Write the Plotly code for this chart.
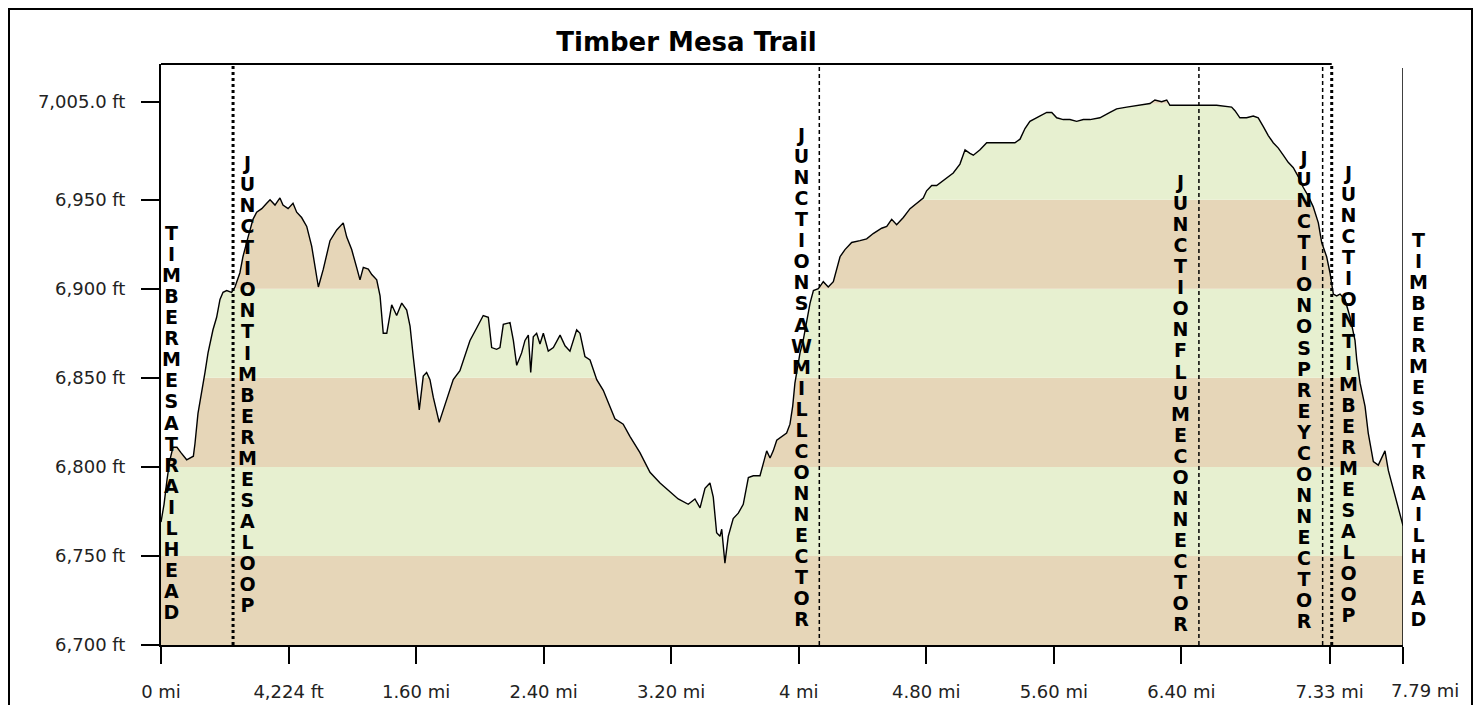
import plotly.graph_objects as go

# ---------------- data ----------------
dist_mi = [
    0.0, 0.019, 0.038, 0.056, 0.075, 0.100, 0.125, 0.161, 0.203, 0.213,
    0.232, 0.255, 0.276, 0.295, 0.326, 0.349, 0.370, 0.389, 0.412, 0.443,
    0.464, 0.495, 0.514, 0.546, 0.577, 0.600, 0.632, 0.663, 0.684, 0.715,
    0.746, 0.765, 0.797, 0.828, 0.851, 0.882, 0.914, 0.945, 0.966, 0.987,
    1.018, 1.060, 1.102, 1.143, 1.165, 1.196, 1.227, 1.248, 1.269, 1.300,
    1.322, 1.353, 1.374, 1.394, 1.416, 1.447, 1.478, 1.510, 1.541, 1.562,
    1.582, 1.604, 1.620, 1.645, 1.666, 1.687, 1.708, 1.745, 1.771, 1.802,
    1.833, 1.875, 1.917, 1.938, 1.980, 2.021, 2.053, 2.074, 2.105, 2.126,
    2.147, 2.189, 2.210, 2.231, 2.262, 2.283, 2.304, 2.319, 2.335, 2.356,
    2.377, 2.398, 2.429, 2.461, 2.503, 2.534, 2.565, 2.586, 2.607, 2.628,
    2.659, 2.691, 2.733, 2.774, 2.816, 2.847, 2.899, 2.942, 3.004, 3.067,
    3.130, 3.192, 3.244, 3.307, 3.349, 3.381, 3.412, 3.443, 3.464, 3.485,
    3.506, 3.517, 3.537, 3.558, 3.589, 3.621, 3.652, 3.684, 3.715, 3.757,
    3.778, 3.799, 3.820, 3.840, 3.862, 3.893, 3.924, 3.945, 3.962, 3.976,
    4.008, 4.028, 4.050, 4.071, 4.092, 4.123, 4.154, 4.185, 4.217, 4.259,
    4.290, 4.332, 4.384, 4.426, 4.467, 4.520, 4.552, 4.583, 4.614, 4.656,
    4.698, 4.750, 4.781, 4.802, 4.834, 4.865, 4.928, 4.969, 5.011, 5.043,
    5.074, 5.095, 5.137, 5.179, 5.262, 5.356, 5.388, 5.419, 5.450, 5.471,
    5.513, 5.555, 5.587, 5.618, 5.659, 5.701, 5.743, 5.785, 5.827, 5.889,
    5.952, 5.994, 6.057, 6.140, 6.203, 6.234, 6.276, 6.308, 6.328, 6.412,
    6.517, 6.621, 6.715, 6.736, 6.767, 6.809, 6.851, 6.882, 6.914, 6.945,
    6.976, 7.008, 7.039, 7.070, 7.102, 7.133, 7.164, 7.196, 7.227, 7.259,
    7.280, 7.311, 7.332, 7.353, 7.374, 7.395, 7.426, 7.458, 7.489, 7.500,
    7.521, 7.552, 7.572, 7.604, 7.635, 7.656, 7.677, 7.698, 7.729, 7.760, 7.790,
]
elev_ft = [
    6769, 6779, 6793, 6804, 6811, 6811, 6808, 6804, 6806, 6813,
    6830, 6841, 6853, 6864, 6877, 6884, 6894, 6898, 6899, 6898,
    6901, 6909, 6918, 6929, 6939, 6943, 6945, 6948, 6950, 6947,
    6951, 6947, 6945, 6948, 6943, 6940, 6935, 6924, 6912, 6901,
    6911, 6927, 6933, 6937, 6929, 6922, 6912, 6905, 6912, 6911,
    6908, 6905, 6896, 6875, 6875, 6891, 6885, 6892, 6888, 6879,
    6862, 6845, 6832, 6851, 6853, 6849, 6839, 6825, 6832, 6841,
    6849, 6854, 6866, 6871, 6878, 6885, 6884, 6867, 6866, 6867,
    6880, 6881, 6871, 6857, 6864, 6871, 6874, 6853, 6873, 6875,
    6869, 6875, 6865, 6867, 6874, 6868, 6865, 6871, 6877, 6875,
    6862, 6860, 6849, 6843, 6834, 6827, 6824, 6817, 6808, 6797,
    6791, 6786, 6782, 6779, 6782, 6777, 6788, 6791, 6783, 6763,
    6761, 6765, 6746, 6761, 6771, 6774, 6779, 6794, 6795, 6795,
    6802, 6809, 6805, 6809, 6815, 6817, 6819, 6824, 6834, 6847,
    6864, 6871, 6881, 6892, 6899, 6900, 6904, 6901, 6904, 6918,
    6922, 6926, 6927, 6928, 6931, 6934, 6935, 6939, 6936, 6940,
    6945, 6949, 6951, 6955, 6958, 6958, 6962, 6965, 6970, 6978,
    6976, 6975, 6978, 6982, 6982, 6982, 6984, 6990, 6994, 6995,
    6997, 6999, 6999, 6996, 6995, 6995, 6994, 6995, 6995, 6996,
    6999, 7001, 7002, 7003, 7004, 7006, 7005, 7006, 7003, 7003,
    7003, 7003, 7002, 7000, 6996, 6996, 6997, 6996, 6991, 6986,
    6982, 6979, 6975, 6971, 6968, 6963, 6957, 6952, 6946, 6937,
    6926, 6918, 6909, 6897, 6896, 6897, 6894, 6884, 6871, 6860,
    6847, 6834, 6819, 6803, 6801, 6805, 6809, 6798, 6787, 6776, 6767,
]

x_tick_vals = [0, 0.8, 1.6, 2.4, 3.2, 4.0, 4.8, 5.6, 6.4, 7.33, 7.79]
x_tick_text = ["0 mi", "4,224 ft", "1.60 mi", "2.40 mi", "3.20 mi", "4 mi",
               "4.80 mi", "5.60 mi", "6.40 mi", "7.33 mi", "7.79 mi"]
y_tick_vals = [6700, 6750, 6800, 6850, 6900, 6950, 7005]
y_tick_text = ["6,700 ft", "6,750 ft", "6,800 ft", "6,850 ft", "6,900 ft",
               "6,950 ft", "7,005.0 ft"]

band_edges_ft = [6700, 6750, 6800, 6850, 6900, 6950, 7004, 7026.2]

waypoint_names = ["TIMBER MESA TRAILHEAD", "JUNCTION TIMBER MESA LOOP",
                  "JUNCTION SAWMILL CONNECTOR", "JUNCTION FLUME CONNECTOR",
                  "JUNCTION OSPREY CONNECTOR", "JUNCTION TIMBER MESA LOOP",
                  "TIMBER MESA TRAILHEAD"]
waypoint_mi = [0.0, 0.452, 4.129, 6.51, 7.286, 7.343, 7.79]

# ---------------- style ----------------
TAN = "#e6d6b8"
GREEN = "#e7f0d0"
band_colors = [TAN, GREEN, TAN, GREEN, TAN, GREEN, TAN]
wp_line = [None, "thick", "thin", "thin", "thin", "thick", None]
wp_label_dx = [10, 14, -18, -18, -19, 17, 15]      # px offset of label
wp_label_top = [223, 153, 125, 172, 148, 163, 230]  # page px of first letter top

OFF = 8                      # page body margin
W, H = 1473, 697             # figure size (page is 1481 x 705)
L, T = 161 - OFF, 64 - OFF   # plot area left / top in figure px
R = W - (1403 - OFF)
B = H - (645 - OFF)
PW, PH = W - L - R, H - T - B
X_MAX = 7.79
Y_MIN, Y_MAX = 6700, 7026.2
FONT = "DejaVu Sans"


def py(ypage):
    """page y pixel -> paper y"""
    return (H - B - (ypage - OFF)) / PH


def px(xpage):
    """page x pixel -> paper x"""
    return (xpage - OFF - L) / PW


fig = go.Figure()

# white mask above the profile so the coloured bands only show under it
fig.add_trace(go.Scatter(x=[0, X_MAX], y=[Y_MAX, Y_MAX], mode="lines",
                         line=dict(width=0, color="white"),
                         hoverinfo="skip", showlegend=False))
fig.add_trace(go.Scatter(x=dist_mi, y=elev_ft, mode="lines",
                         line=dict(color="black", width=1.4),
                         fill="tonexty", fillcolor="white",
                         name="Elevation", showlegend=False))

shapes = []
for i in range(len(band_colors)):
    shapes.append(dict(type="rect", xref="x", yref="y", x0=0, x1=X_MAX,
                       y0=band_edges_ft[i], y1=band_edges_ft[i + 1],
                       fillcolor=band_colors[i], line=dict(width=0),
                       layer="below"))

for xm, st in zip(waypoint_mi, wp_line):
    if st is None:
        continue
    if st == "thick":
        ln = dict(color="black", width=3, dash="3px,3px")
    else:
        ln = dict(color="black", width=1.5, dash="4px,3px")
    shapes.append(dict(type="line", xref="x", yref="paper", x0=xm, x1=xm,
                       y0=0, y1=1, line=ln, layer="above"))

# top frame line (stops at the last loop junction)
shapes.append(dict(type="line", xref="x", yref="paper", x0=0, x1=waypoint_mi[5],
                   y0=1, y1=1, line=dict(color="black", width=2), layer="above"))
# right line
shapes.append(dict(type="line", xref="x", yref="paper", x0=X_MAX, x1=X_MAX,
                   y0=0, y1=py(68), line=dict(color="black", width=1.5),
                   layer="above"))
# outer border of the picture
shapes.append(dict(type="rect", xref="paper", yref="paper",
                   x0=px(8.5), x1=px(1472.5), y0=py(720), y1=py(8.5),
                   line=dict(color="black", width=3), fillcolor="rgba(0,0,0,0)",
                   layer="above"))

annotations = []
for name, xm, dx, top in zip(waypoint_names, waypoint_mi, wp_label_dx, wp_label_top):
    letters = [ch for ch in name if ch != " "]
    txt = "<br>".join('<span style="font-size:19px">%s</span>' % ch for ch in letters)
    annotations.append(dict(x=xm, xref="x", y=py(top - 3), yref="paper",
                            xanchor="center", yanchor="top", xshift=dx,
                            text=txt, showarrow=False, align="center",
                            font=dict(family=FONT, size=16.2, color="black",
                                      weight="bold")))

# last x tick label sits right of its tick
annotations.append(dict(x=X_MAX, xref="x", y=py(678), yref="paper",
                        xanchor="center", yanchor="top", xshift=22,
                        text=x_tick_text[-1], showarrow=False,
                        font=dict(family=FONT, size=18, color="#222")))
x_tick_labels = x_tick_text[:-1] + [""]

fig.update_layout(
    width=W, height=H, autosize=False,
    margin=dict(l=L, r=R, t=T, b=B, pad=0, autoexpand=False),
    paper_bgcolor="white", plot_bgcolor="white",
    title=dict(text="Timber Mesa Trail", x=(686.5 - OFF) / W, xanchor="center",
               y=1 - (41.7 - OFF) / H, yanchor="middle",
               xref="container", yref="container", automargin=False,
               font=dict(family=FONT, size=26, color="black", weight="bold")),
    xaxis=dict(range=[0, X_MAX], tickmode="array", tickvals=x_tick_vals,
               ticktext=x_tick_labels, ticks="outside", ticklen=17, tickwidth=2,
               tickcolor="black", showline=True, linecolor="black", linewidth=2,
               showgrid=False, zeroline=False, ticklabelstandoff=12,
               automargin=False,
               tickfont=dict(family=FONT, size=18, color="#222"), fixedrange=True),
    yaxis=dict(range=[Y_MIN, Y_MAX], tickmode="array", tickvals=y_tick_vals,
               ticktext=y_tick_text, ticks="outside", ticklen=18, tickwidth=2,
               tickcolor="black", showline=True, linecolor="black", linewidth=2,
               showgrid=False, zeroline=False, ticklabelstandoff=12,
               automargin=False,
               tickfont=dict(family=FONT, size=18, color="#222"), fixedrange=True),
    shapes=shapes,
    annotations=annotations,
    showlegend=False,
)

fig.write_html("out.html")
